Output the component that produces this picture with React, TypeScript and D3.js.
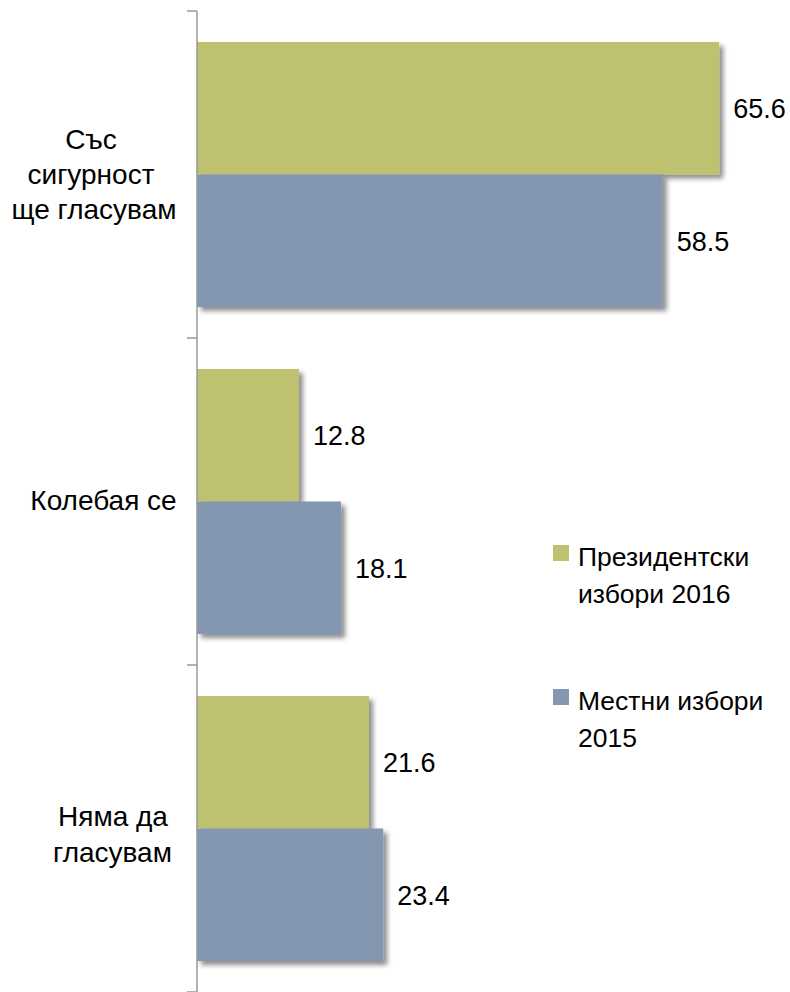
import React from "react";
import * as d3 from "d3";

const categories = [["Със", "сигурност", "ще гласувам"], ["Колебая се"], ["Няма да", "гласувам"]];
const categoryKeys = ["sure", "hesitant", "notVote"];
const series2016 = [65.6, 12.8, 21.6];
const series2015 = [58.5, 18.1, 23.4];
const seriesNames = [["Президентски", "избори 2016"], ["Местни избори", "2015"]];
const colors = ["#BEC26F", "#8497B0"];

// layout (line centers / baselines relative to band centre)
const catLayout = [
  [{ cx: 91, dy: -26 }, { cx: 91, dy: 9 }, { cx: 94, dy: 44 }],
  [{ cx: 103.5, dy: 8.5 }],
  [{ cx: 113, dy: -3 }, { cx: 112.5, dy: 33 }],
];

const W = 790, H = 992;
const font = "'Liberation Sans', Arial, sans-serif";

export default function App() {
  const x0 = 197;
  const x = d3.scaleLinear().domain([0, 100]).range([x0, x0 + 796]);
  const y = d3.scaleBand().domain(categoryKeys).range([11, 992]).paddingInner(0).paddingOuter(0);
  const pad = 31;
  const bw = (y.bandwidth() - 2 * pad) / 2;
  const series = [series2016, series2015];
  return (
    <svg width={W} height={H} style={{ position: "absolute", left: 0, top: 0 }}>
      <defs>
        <filter id="sh" x="-10%" y="-10%" width="130%" height="130%">
          <feGaussianBlur in="SourceAlpha" stdDeviation="2.5" />
          <feOffset dx="4" dy="4" result="b" />
          <feComponentTransfer><feFuncA type="linear" slope="0.45" /></feComponentTransfer>
          <feMerge><feMergeNode /><feMergeNode in="SourceGraphic" /></feMerge>
        </filter>
      </defs>
      <rect width={W} height={H} fill="#fff" />
      {categoryKeys.map((k, i) =>
        series.map((s, j) => {
          const yy = (y(k) as number) + pad + j * bw;
          return (
            <g key={k + j}>
              <rect x={x(0)} y={yy} width={x(s[i]) - x(0)} height={bw} fill={colors[j]} filter="url(#sh)" />
              <text x={x(s[i]) + 14} y={yy + bw / 2 + 10} fontFamily={font} fontSize={27} fill="#000">
                {s[i].toFixed(1)}
              </text>
            </g>
          );
        })
      )}
      <line x1={x0} x2={x0} y1={11} y2={992} stroke="#999" strokeWidth={1.5} />
      {[...categoryKeys.map((k) => y(k) as number), 992].map((t, i) => (
        <line key={i} x1={187} x2={x0} y1={t} y2={t} stroke="#999" strokeWidth={1.5} />
      ))}
      {categoryKeys.map((k, i) => {
        const lines = categories[i];
        const c = (y(k) as number) + y.bandwidth() / 2;
        return (
          <text key={k} fontFamily={font} fontSize={28} textAnchor="middle" fill="#000">
            {lines.map((l, m) => (
              <tspan key={m} x={catLayout[i][m].cx} y={c + catLayout[i][m].dy}>{l}</tspan>
            ))}
          </text>
        );
      })}
      {seriesNames.map((n, j) => {
        const top = j === 0 ? 545 : 689;
        return (
          <g key={j}>
            <rect x={553} y={top} width={16} height={16} fill={colors[j]} />
            {n.map((l, m) => (
              <text key={m} x={578} y={top + 21 + m * 37} fontFamily={font} fontSize={26.5} fill="#000">{l}</text>
            ))}
          </g>
        );
      })}
    </svg>
  );
}
